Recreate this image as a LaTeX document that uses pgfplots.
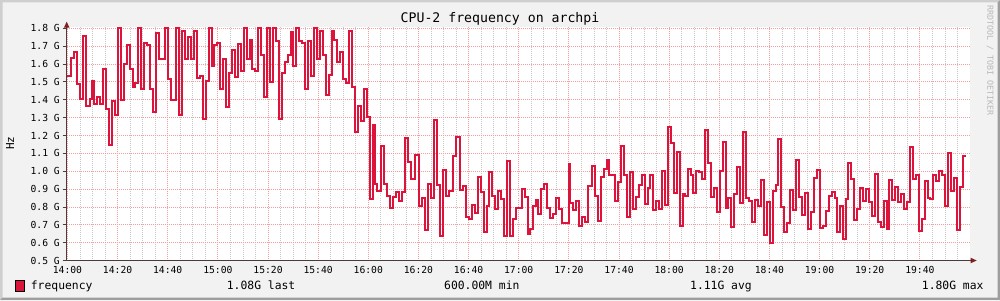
\documentclass[border=0pt]{standalone}
\usepackage{fontspec}
\setmainfont{DejaVu Sans Mono}
\usepackage{pgfplots}
\pgfplotsset{compat=1.18}
\definecolor{bg}{HTML}{F2F2F2}
\definecolor{shadea}{HTML}{CFCFCF}
\definecolor{shadeb}{HTML}{9E9E9E}
\definecolor{mgrid}{HTML}{F0A0A0}
\definecolor{sgrid}{HTML}{C8C8C8}
\definecolor{axiscol}{HTML}{4B3B3B}
\definecolor{arrowcol}{HTML}{7F1F1F}
\definecolor{freq}{HTML}{DC143C}
\definecolor{wm}{HTML}{B8B8B8}
\begin{document}
\begin{tikzpicture}[x=1pt,y=1pt]
\fill[bg] (0,0) rectangle (1000,300);
\fill[shadea] (0,300) -- (1000,300) -- (997.5,297.5) -- (2.5,297.5) -- (2.5,2.5) -- (0,0) -- cycle;
\fill[shadeb] (1000,300) -- (1000,0) -- (0,0) -- (2.5,2.5) -- (997.5,2.5) -- (997.5,297.5) -- cycle;
\begin{axis}[
  at={(66.7pt,39.5pt)}, anchor=south west, scale only axis,
  width=903.3pt, height=233.8pt,
  xmin=-0.3, xmax=360, ymin=0.5, ymax=1.809,
  axis background/.style={fill=white},
  axis line style={draw=none},
  xtick={0,20,40,60,80,100,120,140,160,180,200,220,240,260,280,300,320,340},
  xticklabels={14:00,14:20,14:40,15:00,15:20,15:40,16:00,16:20,16:40,17:00,17:20,17:40,18:00,18:20,18:40,19:00,19:20,19:40},
  minor xtick={5,10,15,25,30,35,45,50,55,65,70,75,85,90,95,105,110,115,125,130,135,145,150,155,165,170,175,185,190,195,205,210,215,225,230,235,245,250,255,265,270,275,285,290,295,305,310,315,325,330,335,345,350,355},
  ytick={0.5,0.6,0.7,0.8,0.9,1.0,1.1,1.2,1.3,1.4,1.5,1.6,1.7,1.8},
  yticklabels={0.5 G,0.6 G,0.7 G,0.8 G,0.9 G,1.0 G,1.1 G,1.2 G,1.3 G,1.4 G,1.5 G,1.6 G,1.7 G,1.8 G},
  xtick pos=bottom, ytick pos=left,
  grid=both,
  major grid style={mgrid, dash pattern=on 1pt off 1pt, line width=0.8pt},
  minor grid style={sgrid, dash pattern=on 1pt off 1pt, line width=0.8pt},
  tick align=outside, major tick length=4pt, minor tick length=0pt,
  xtick style={draw=none}, ytick style={draw=axiscol, line width=0.8pt},
  ticklabel style={font=\fontsize{9.7}{10}\selectfont, inner sep=0pt},
  xticklabel style={anchor=north, yshift=-1.5pt},
  yticklabel style={anchor=east, xshift=-2.7pt},
]
\addplot[const plot, freq, line width=2pt] table {
0 1.533
1.59 1.632
2.52 1.665
3.85 1.486
5.18 1.404
6.24 1.755
7.57 1.364
8.9 1.404
9.83 1.503
10.62 1.376
11.82 1.417
13.15 1.376
14.21 1.574
15.4 1.346
16.6 1.146
17.8 1.391
18.99 1.314
20.19 1.8
21.38 1.396
22.58 1.602
23.77 1.705
24.97 1.574
26.16 1.473
27.09 1.492
28.15 1.8
29.35 1.46
30.54 1.72
31.74 1.705
32.93 1.46
34.13 1.333
35.32 1.776
36.52 1.63
38.91 1.8
40.1 1.518
41.3 1.398
43.29 1.8
44.49 1.314
45.68 1.787
46.88 1.63
48.07 1.75
49.27 1.63
50.46 1.787
51.66 1.523
52.85 1.535
54.05 1.29
55.24 1.503
56.44 1.8
57.63 1.59
58.43 1.705
59.63 1.716
60.69 1.46
61.88 1.63
63.08 1.361
64.27 1.548
65.47 1.68
66.8 1.529
67.86 1.714
69.32 1.561
70.38 1.8
71.58 1.63
72.77 1.736
73.57 1.574
74.76 1.563
75.96 1.8
77.15 1.65
78.35 1.417
79.54 1.8
80.74 1.499
81.93 1.8
83.13 1.731
84.32 1.29
85.52 1.551
86.72 1.613
87.91 1.649
89.11 1.778
89.9 1.591
91.1 1.8
92.29 1.731
93.49 1.72
94.68 1.46
95.88 1.731
97.07 1.533
98.27 1.8
99.46 1.63
100.66 1.787
101.85 1.649
103.05 1.426
104.24 1.536
105.44 1.787
106.24 1.736
107.43 1.613
108.63 1.665
109.82 1.518
111.02 1.492
112.21 1.787
113.41 1.473
114.6 1.219
115.8 1.366
116.99 1.282
118.19 1.462
119.38 1.305
120.58 0.843
121.77 1.26
122.71 0.931
123.64 0.89
125.1 1.142
126.3 0.931
127.49 0.862
128.69 0.794
129.88 0.856
131.08 0.884
132.27 0.832
133.47 0.884
134.53 1.187
135.86 1.052
137.05 0.959
138.78 1.092
140.24 0.804
141.44 0.85
142.63 0.669
143.83 0.929
145.02 0.85
146.22 1.284
147.41 0.923
148.61 0.639
149.8 1.007
151 0.862
152.19 0.89
153.92 1.086
155.12 1.193
156.58 0.897
157.77 0.918
158.97 0.744
160.16 0.731
161.36 0.813
162.55 0.766
163.75 0.97
164.94 0.882
166.14 0.66
167.33 0.807
168.26 0.998
169.32 0.862
170.39 0.789
171.58 0.89
172.78 0.843
173.97 0.639
175.17 1.058
176.36 0.639
177.56 0.733
178.75 0.794
181.14 0.901
182.34 0.856
183.53 0.651
184.6 0.675
185.66 0.807
186.72 0.841
187.78 0.761
188.98 0.899
190.17 0.929
191.37 0.794
192.56 0.738
193.76 0.759
194.95 0.85
196.15 0.789
197.34 0.71
199.87 1.043
200.53 0.822
201.73 0.781
202.92 0.834
204.12 0.692
205.31 0.744
206.51 0.714
207.7 0.918
209.03 1.03
210.23 0.862
211.42 0.72
212.62 0.97
213.81 1.015
215.01 1.064
216.2 0.979
217.4 0.976
218.59 0.832
219.79 0.94
220.72 1.142
221.91 0.976
223.11 0.742
224.3 0.993
225.5 0.787
226.69 0.856
227.89 0.925
229.08 0.976
230.28 0.815
231.47 0.906
232.4 0.979
233.6 0.781
234.79 0.834
235.99 0.789
237.18 1.002
238.38 0.811
239.57 1.249
240.77 1.158
241.96 0.879
243.16 1.105
244.35 0.692
245.55 0.873
246.34 0.862
247.54 1.012
248.74 0.981
249.53 0.877
250.73 1.003
251.92 0.996
253.12 0.958
254.31 1.233
255.64 1.047
256.84 0.854
258.03 0.907
259.23 0.77
260.42 1.003
261.62 1.166
262.81 0.794
263.61 0.85
264.8 0.686
266 0.873
267.19 1.021
268.39 0.821
269.58 1.221
270.78 0.85
271.98 0.834
273.17 0.714
274.37 0.838
275.56 0.806
276.76 0.948
277.95 0.64
279.15 0.826
280.08 0.6
281.27 0.89
282.47 0.923
283.53 1.178
284.72 0.798
285.92 0.662
287.11 0.712
288.31 0.897
289.5 0.781
290.7 1.064
291.89 0.856
293.09 0.755
294.28 0.88
295.48 0.675
296.68 0.77
297.87 0.963
299.07 1.007
300.26 0.68
301.46 0.692
302.65 0.776
303.85 0.862
305.04 0.884
306.24 0.85
307.03 0.662
308.23 0.806
309.42 0.622
310.62 0.845
311.28 1.047
312.48 0.957
313.67 0.725
314.87 0.787
316.06 0.907
317.26 0.834
318.45 0.901
319.65 0.828
320.84 0.748
322.04 0.985
323.23 0.716
324.43 0.688
325.62 0.834
326.82 0.679
327.88 0.951
329.08 0.837
330.27 0.912
331.47 0.828
332.66 0.873
333.86 0.789
335.05 0.828
336.25 1.133
337.44 0.957
338.64 0.979
339.83 0.665
341.03 0.731
342.22 0.946
343.15 0.85
344.08 0.845
345.28 0.976
346.47 0.946
347.67 1.002
348.86 0.979
350.06 0.806
351.25 1.103
352.45 0.89
353.65 0.963
354.84 0.671
356.04 0.914
357.23 1.086
358.43 1.086
};
\end{axis}
% axes with arrows
\draw[axiscol, line width=1pt] (66.7,39.5) -- (971,39.5);
\fill[arrowcol] (976.7,39.5) -- (970.5,42.3) -- (970.5,36.7) -- cycle;
\draw[axiscol, line width=1pt] (66.7,39.5) -- (66.7,273);
\fill[arrowcol] (66.7,278.3) -- (63.9,272.3) -- (69.5,272.3) -- cycle;
% title and labels
\node[anchor=base, inner sep=0pt, font=\fontsize{13.2}{14}\selectfont] at (500,277) {CPU-2 frequency on archpi};
\node[rotate=90, inner sep=0pt, font=\fontsize{11}{12}\selectfont] at (10,157) {Hz};
\node[rotate=-90, anchor=west, inner sep=0pt, text=wm, font=\fontsize{8.3}{9}\selectfont] at (990,295) {RRDTOOL / TOBI OETIKER};
% legend
\fill[freq] (15,9) rectangle (24.3,19.3);
\draw[black, line width=0.8pt] (15,9) rectangle (24.3,19.3);
\begin{scope}[every node/.style={anchor=base west, inner sep=0pt, font=\fontsize{11.36}{12}\selectfont}]
\node at (30.7,10.7) {frequency};
\node at (226.7,10.7) {1.08G last};
\node at (444,10.7) {600.00M min};
\node at (690,10.7) {1.11G avg};
\node at (921.7,10.7) {1.80G max};
\end{scope}
\end{tikzpicture}
\end{document}
